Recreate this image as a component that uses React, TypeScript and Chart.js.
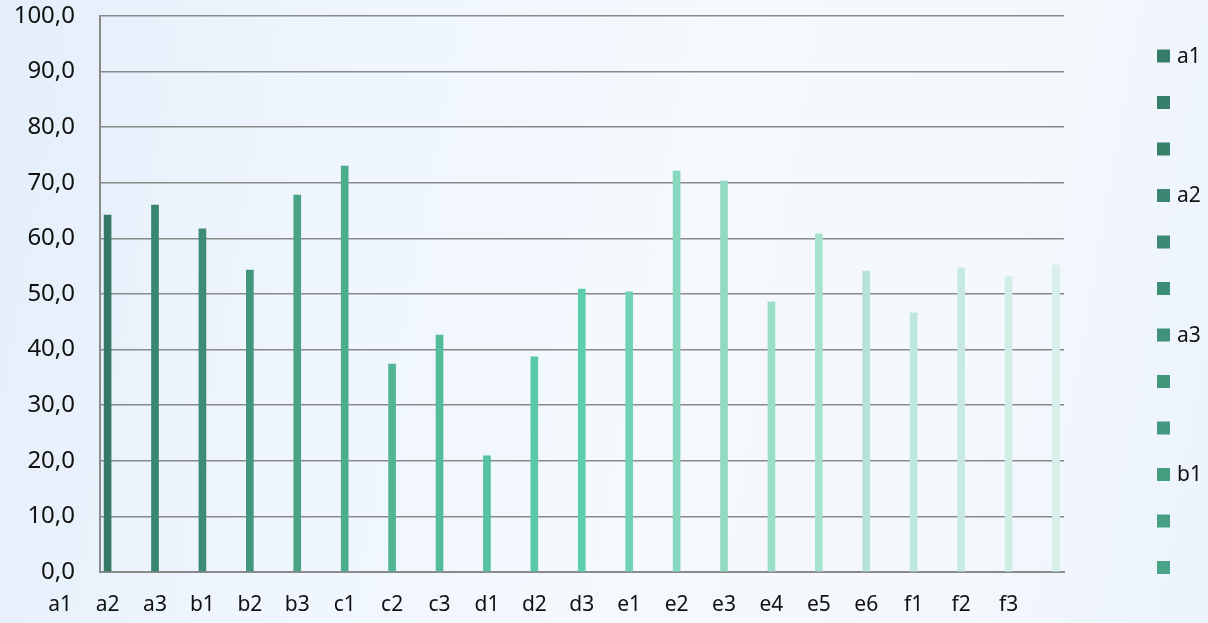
import React, { useEffect, useRef } from "react";
import { Chart, registerables } from "chart.js";

Chart.register(...registerables);

// ---- data ----
const categories = [
  "a1", "a2", "a3", "b1", "b2", "b3", "c1", "c2", "c3", "d1", "d2", "d3",
  "e1", "e2", "e3", "e4", "e5", "e6", "f1", "f2", "f3",
];

const values = [
  64.2, 66.0, 61.7, 54.3, 67.8, 73.0, 37.4, 42.6, 20.9, 38.7, 50.9,
  50.4, 72.1, 70.3, 48.6, 60.8, 54.1, 46.6, 54.7, 53.1, 55.2,
];

const barColors = [
  "#357a66", "#388570", "#3d8c75", "#42967c", "#48a283", "#4dac8c", "#51b493",
  "#54bc9a", "#57c29f", "#5ac8a4", "#5dcfaa", "#6dd3b3", "#86d9be", "#91dbc3",
  "#9cdfc8", "#a7e2ce", "#b4e3d6", "#bee7db", "#c6eadf", "#d0ede4", "#d9f0ea",
];

const legendLabels = ["a1", "", "", "a2", "", "", "a3", "", "", "b1", "", ""];

const legendColors = [
  "#367b67", "#377f6a", "#38826c", "#3a8670", "#3c8a73", "#3e8e76",
  "#40927a", "#42967c", "#43997f", "#459d82", "#47a084", "#49a487",
];

const yMin = 0;
const yMax = 100;
const yStep = 10;

const FONT = "'Noto Sans', 'Open Sans', sans-serif";

const sideLegend = {
  id: "sideLegend",
  afterDraw(chart: any) {
    const ctx = chart.ctx as CanvasRenderingContext2D;
    const x0 = chart.chartArea.right + 93;
    ctx.save();
    ctx.font = `21px ${FONT}`;
    ctx.textBaseline = "middle";
    ctx.textAlign = "left";
    legendLabels.forEach((label, i) => {
      const cy = 56 + i * 46.5;
      ctx.fillStyle = legendColors[i];
      ctx.fillRect(x0, cy - 6.5, 13, 13);
      if (label) {
        ctx.fillStyle = "#111";
        ctx.fillText(label, x0 + 20, cy + 1);
      }
    });
    ctx.restore();
  },
};

export default function App() {
  const ref = useRef<HTMLCanvasElement>(null);

  useEffect(() => {
    if (!ref.current) return;
    const chart = new Chart(ref.current, {
      type: "bar",
      data: {
        datasets: [
          {
            data: values.map((v, i) => ({ x: i, y: v })),
            backgroundColor: barColors,
            borderWidth: 0,
            barThickness: 7,
          },
        ],
      },
      options: {
        animation: false,
        responsive: true,
        maintainAspectRatio: false,
        layout: { padding: { top: 16, right: 144, bottom: 0, left: 0 } },
        plugins: {
          legend: { display: false },
          tooltip: { enabled: false },
        },
        scales: {
          x: {
            type: "linear",
            min: -0.16,
            max: 20.17,
            offset: false,
            grid: { display: false, drawTicks: false },
            border: { display: true, color: "#8a8a8a", width: 2 },
            afterBuildTicks: (scale: any) => {
              scale.ticks = categories.map((_, i) => ({ value: i - 1 }));
            },
            afterFit: (scale: any) => {
              scale.height = 51;
              scale.paddingLeft = 0;
              scale.paddingRight = 0;
            },
            ticks: {
              autoSkip: false,
              maxRotation: 0,
              minRotation: 0,
              padding: 20,
              color: "#111",
              font: { family: FONT, size: 21 },
              callback: (_v: any, index: number) => categories[index],
            },
          },
          y: {
            type: "linear",
            min: yMin,
            max: yMax,
            grid: { color: "#8a8a8a", lineWidth: 1.6, drawTicks: false },
            border: { display: true, color: "#8a8a8a", width: 2 },
            afterFit: (scale: any) => {
              scale.width = 100;
              scale.paddingTop = 0;
              scale.paddingBottom = 0;
            },
            ticks: {
              stepSize: yStep,
              padding: 25,
              color: "#111",
              font: { family: FONT, size: 24 },
              callback: (v: any) => Number(v).toFixed(1).replace(".", ","),
            },
          },
        },
      },
      plugins: [sideLegend],
    });
    return () => chart.destroy();
  }, []);

  return (
    <div
      style={{
        position: "absolute",
        left: 0,
        top: 0,
        width: 1208,
        height: 623,
        background:
          "linear-gradient(100deg, #e4eefa 0%, #eef5fd 25%, #f5f9fe 55%, #f4f8fd 80%, #ecf3fc 100%)",
      }}
    >
      <canvas ref={ref} />
    </div>
  );
}
